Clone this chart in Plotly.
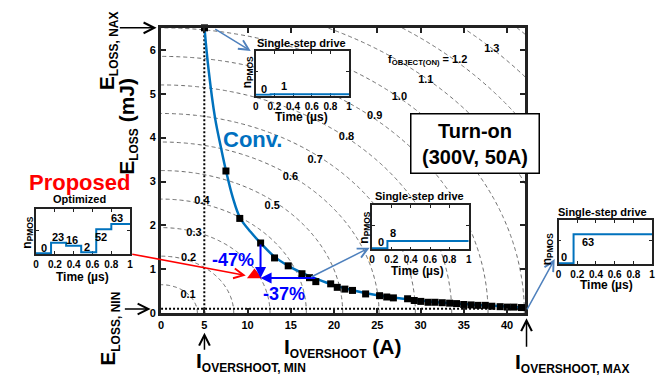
import numpy as np
import plotly.graph_objects as go

W, H = 662, 378
FONT = "Liberation Sans, Arial, sans-serif"

# ---------------- data ----------------
# conventional (single-step) design points: I_overshoot (A), E_loss (mJ)
conv_i = [5.02, 7.50, 9.10, 11.51, 13.12, 14.70, 16.29, 17.16, 17.89, 19.61, 20.37, 21.25,
          22.13, 23.65, 25.26, 26.09, 26.86, 28.50, 29.27, 30.03, 30.87, 31.67, 32.51, 33.36,
          34.16, 34.99, 35.83, 36.63, 37.48, 38.24, 39.20, 40.03, 40.80, 41.67]
conv_e = [6.50, 3.24, 2.16, 1.60, 1.26, 1.08, 0.90, 0.81, 0.72, 0.67, 0.59, 0.55,
          0.52, 0.44, 0.40, 0.37, 0.35, 0.33, 0.29, 0.27, 0.25, 0.25, 0.24, 0.23,
          0.22, 0.20, 0.19, 0.18, 0.18, 0.16, 0.15, 0.14, 0.14, 0.13]
# fitted conventional trade-off curve
fit_i = [5.02, 5.48, 6.24, 6.93, 7.50, 8.27, 9.14, 10.37, 11.51, 13.10, 14.70, 16.30,
         17.90, 20.00, 22.00, 25.00, 28.00, 31.00, 34.00, 37.50, 41.67]
fit_e = [6.50, 5.57, 4.45, 3.77, 3.25, 2.65, 2.17, 1.85, 1.60, 1.29, 1.08, 0.92,
         0.79, 0.64, 0.53, 0.41, 0.33, 0.27, 0.22, 0.18, 0.13]
# proposed (optimized) point
prop_i = [10.8]
prop_e = [0.87]
# limits
I_MIN, I_MAX = 5.0, 42.1
E_MIN, E_MAX = 0.1, 6.5
# objective-function normalisation
I_NORM, E_NORM = 42.0, 6.5
contour_levels = [0.1, 0.2, 0.3, 0.4, 0.5, 0.6, 0.7, 0.8, 0.9, 1.0, 1.1, 1.3]
contour_lab_i = [3.12, 3.18, 3.80, 4.73, 12.85, 14.95, 17.81, 21.44, 24.69, 27.55, 30.61, 38.24]
contour_lab_e = [0.41, 1.25, 1.82, 2.55, 2.44, 3.09, 3.48, 4.00, 4.48, 4.92, 5.30, 6.02]
# arrows of improvement
conv_ref = (11.5, 1.60)
arrow_tip = (11.5, 0.80)
conv_ref_h = (18.0, 0.80)

x_ticks = [0, 5, 10, 15, 20, 25, 30, 35, 40]
y_ticks = [0, 1, 2, 3, 4, 5, 6]

# inset step profiles (time in us, n_PMOS)
t_single = [0, 0.16, 1.0]
n_single_1 = [0, 1, 1]
n_single_8 = [0, 8, 8]
n_single_63 = [0, 63, 63]
t_opt = [0, 0.16, 0.32, 0.48, 0.64, 0.80, 1.0]
n_opt = [0, 23, 16, 2, 52, 63, 63]
inset_ticks = [0, 0.2, 0.4, 0.6, 0.8, 1]
inset_ticktext = ["0", "0.2", "0.4", "0.6", "0.8", "1"]

BLUE = "#0072BD"
ARROW_BLUE = "#4F81BD"


def P(x, y):
    return x / W, 1 - y / H


def dom_x(a, b):
    return [a / W, b / W]


def dom_y(top, bot):
    return [1 - bot / H, 1 - top / H]


fig = go.Figure()

# contour lines of objective function
gi = np.linspace(0, I_MAX, 300)
ge = np.linspace(0, E_MAX, 200)
Z = np.sqrt((gi[None, :] / I_NORM) ** 2 + (ge[:, None] / E_NORM) ** 2)
fig.add_trace(go.Contour(x=gi, y=ge, z=Z, showscale=False, hoverinfo="skip",
                         contours=dict(coloring="none", start=0.1, end=1.4, size=0.1,
                                       showlabels=False),
                         line=dict(color="#5a5a5a", width=0.9, dash="4px,3px")))
fig.add_trace(go.Scatter(x=contour_lab_i, y=contour_lab_e, mode="text",
                         text=[f"<b>{v:.1f}</b>" for v in contour_levels],
                         textfont=dict(size=11, color="black", family=FONT),
                         hoverinfo="skip"))
# min lines
fig.add_trace(go.Scatter(x=[I_MIN, I_MIN], y=[0, E_MAX], mode="lines",
                         line=dict(color="black", width=2, dash="2px,2px")))
fig.add_trace(go.Scatter(x=[0, I_MAX], y=[E_MIN, E_MIN], mode="lines",
                         line=dict(color="black", width=2, dash="2px,2px")))
# conv fit & points
fig.add_trace(go.Scatter(x=fit_i, y=fit_e, mode="lines",
                         line=dict(color=BLUE, width=2.5, shape="spline", smoothing=1.0)))
fig.add_trace(go.Scatter(x=conv_i, y=conv_e, mode="markers", cliponaxis=False,
                         marker=dict(symbol="square", size=7, color="black")))
fig.add_trace(go.Scatter(x=prop_i, y=prop_e, mode="markers",
                         marker=dict(symbol="triangle-up", size=13, color="#FF0000")))

# insets
insets = [
    (2, (255, 349.3), (51.7, 97.3), t_single, n_single_1, [-2, 95], 50),
    (3, (372.3, 470), (208.3, 253.3), t_single, n_single_8, [-1, 47.5], 25),
    (4, (560.7, 655), (223.3, 268.3), t_single, n_single_63, [-2, 95], 50),
    (5, (33.3, 128.3), (212.7, 258.3), t_opt, n_opt, [-2, 95], 50),
]
for k, xd, yd, tt, nn, yr, ytk in insets:
    fig.add_trace(go.Scatter(x=tt, y=nn, mode="lines", xaxis=f"x{k}", yaxis=f"y{k}",
                             line=dict(color=BLUE, width=2, shape="hv")))
    fig.update_layout(**{
        f"xaxis{k}": dict(domain=dom_x(*xd), anchor=f"y{k}", range=[0, 1],
                          tickvals=inset_ticks, ticktext=inset_ticktext,
                          ticks="inside", ticklen=3, tickwidth=1, tickcolor="#222",
                          showline=True, linewidth=1.5, linecolor="#222", mirror="ticks",
                          showgrid=False, zeroline=False, layer="below traces",
                          tickfont=dict(size=10, color="black", family=FONT, weight="bold")),
        f"yaxis{k}": dict(domain=dom_y(*yd), anchor=f"x{k}", range=yr,
                          tickvals=[ytk], showticklabels=False,
                          ticks="inside", ticklen=3, tickwidth=1, tickcolor="#222",
                          showline=True, linewidth=1.5, linecolor="#222", mirror="ticks",
                          showgrid=False, zeroline=False, layer="below traces"),
    })

ann = []


def txt(s, cx, cy, size, color="black", angle=0, **kw):
    x, y = P(cx, cy)
    d = dict(x=x, y=y, xref="paper", yref="paper", text=s, showarrow=False,
             font=dict(size=size, color=color, family=FONT), textangle=angle,
             xanchor="center", yanchor="middle")
    d.update(kw)
    ann.append(d)


def arr(tip, tail, color, width=1.5, head=5, size=1.3):
    x, y = P(*tip)
    ann.append(dict(x=x, y=y, xref="paper", yref="paper", text="", showarrow=True,
                    ax=tail[0] - tip[0], ay=tail[1] - tip[1], axref="pixel", ayref="pixel",
                    arrowhead=head, arrowsize=size, arrowwidth=width, arrowcolor=color,
                    standoff=0, startstandoff=0))


def sub(base, s, ssize):
    return f'<b>{base}<sub><span style="font-size:{ssize}px">{s}</span></sub></b>'


# axis titles and limit labels
txt(sub("E", "LOSS, NAX", 12), 106, 52, 21, angle=-90)
txt(sub("E", "LOSS", 12) + "<b> (mJ)</b>", 126, 128, 21, angle=-90)
txt(sub("E", "LOSS, NIN", 12), 107, 334, 21, angle=-90)
txt(sub("I", "OVERSHOOT", 12) + "<b> (A)</b>", 343, 354, 21)
txt(sub("I", "OVERSHOOT, MIN", 12), 250, 368, 21)
txt(sub("I", "OVERSHOOT, MAX", 12), 575, 369, 21)
arr((155, 28.3), (116.7, 28.3), "black", 1.5, 5, 1.4)
arr((149, 314), (121.7, 314), "black", 1.5, 5, 1.4)
arr((203.3, 338), (203.3, 356.7), "black", 1.5, 5, 1.4)
arr((528.3, 323.3), (528.3, 353.3), "black", 1.5, 5, 1.4)

# f_object label
txt("<b>f<sub>OBJECT(ON)</sub> = 1.2</b>", 428, 60.7, 11)

# Turn-on box
x0, y0 = P(476.4, 145.5)
ann.append(dict(x=x0, y=y0, xref="paper", yref="paper", showarrow=False,
                text="<b>Turn-on</b><br><b>(300V, 50A)</b>",
                font=dict(size=20, color="black", family=FONT),
                bgcolor="white", bordercolor="black", borderwidth=1.5, borderpad=3,
                width=121, height=52, xanchor="center", yanchor="middle"))

# Conv. and percentage labels
txt("<b>Conv.</b>", 252, 142, 22, color="#0070C0")
ann.append(dict(x=8.27, y=1.22, xref="x", yref="y", text="<b>-47%</b>", showarrow=False,
                font=dict(size=18, color="#0000FF", family=FONT)))
ann.append(dict(x=14.18, y=0.44, xref="x", yref="y", text="<b>-37%</b>", showarrow=False,
                font=dict(size=18, color="#0000FF", family=FONT)))
for tail in (conv_ref, conv_ref_h):
    ann.append(dict(x=arrow_tip[0], y=arrow_tip[1], xref="x", yref="y",
                    ax=tail[0], ay=tail[1], axref="x", ayref="y", text="",
                    showarrow=True, arrowhead=2, arrowsize=1.1, arrowwidth=2,
                    arrowcolor="#0000FF", standoff=0))

# Proposed labels
txt("<b>Proposed</b>", 77.3, 185, 22, color="#FF0000")
txt("<b>Optimized</b>", 76.7, 202.3, 11)
arr((245, 280), (130, 258.3), "#FF0000", 1.5, 5, 1.3)

# inset arrows
arr((250, 51.7), (213, 29), ARROW_BLUE, 1.5, 5, 1.3)
arr((370, 251.7), (310, 281.7), ARROW_BLUE, 1.5, 5, 1.3)
arr((556.7, 263.3), (528.3, 315), ARROW_BLUE, 1.5, 5, 1.3)

# inset texts
inset_txt = [
    ("Single-step drive", (301.7, 43.3), (301.7, 119), (246.7, 73),
     [("0", 263.3, 90), ("1", 284, 87.3)]),
    ("Single-step drive", (420, 199), (418.3, 275), (365, 231.7),
     [("0", 381, 246), ("8", 394, 236.7)]),
    ("Single-step drive", (605, 215), (609, 290), (550, 253.3),
     [("0", 566, 261), ("63", 590, 246)]),
    (None, None, (80, 281), (25, 236.7),
     [("0", 41, 251.7), ("23", 55, 241), ("16", 69.3, 243.7), ("2", 85, 251),
      ("52", 99, 241), ("63", 115, 221.7)]),
]
for title, txy, tmxy, nxy, labs in inset_txt:
    if title:
        txt(f"<b>{title}</b>", txy[0], txy[1], 11)
    txt("<b>Time (µs)</b>", tmxy[0], tmxy[1], 12)
    txt("<b>n<sub>PMOS</sub></b>", nxy[0], nxy[1], 12, angle=-90)
    for s, lx, ly in labs:
        txt(f"<b>{s}</b>", lx, ly, 11)

fig.update_layout(
    width=W, height=H, margin=dict(l=0, r=0, t=0, b=0),
    paper_bgcolor="white", plot_bgcolor="white", showlegend=False,
    font=dict(family=FONT, color="black"),
    xaxis=dict(domain=dom_x(159.5, 527), range=[0, I_MAX], tickvals=x_ticks,
               ticks="inside", ticklen=5, tickwidth=1.5, tickcolor="#222",
               showline=True, linewidth=3, linecolor="#222", mirror="ticks",
               showgrid=False, zeroline=False,
               tickfont=dict(size=11, color="black", family=FONT, weight="bold")),
    yaxis=dict(domain=dom_y(28.3, 318.3), range=[0, E_MAX], tickvals=y_ticks,
               ticks="inside", ticklen=5, tickwidth=1.5, tickcolor="#222",
               showline=True, linewidth=3, linecolor="#222", mirror="ticks",
               showgrid=False, zeroline=False,
               tickfont=dict(size=11, color="black", family=FONT, weight="bold")),
    annotations=ann,
)

fig.write_html("out.html", config={"displayModeBar": False},
               post_script="document.body.style.margin='0px';"
                           "document.body.style.overflow='hidden';")
